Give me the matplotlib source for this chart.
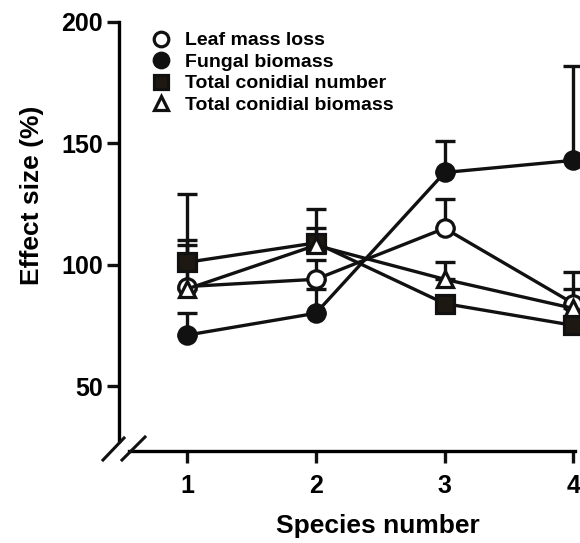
import matplotlib
matplotlib.use("Agg")
import matplotlib.pyplot as plt
from matplotlib.lines import Line2D
import matplotlib.transforms as mtransforms

plt.rcParams['font.family'] = ['Liberation Sans', 'DejaVu Sans']
plt.rcParams['font.weight'] = 'bold'

species = [1, 2, 3, 4]
leaf_mass_loss = [91, 94, 115, 84]
leaf_mass_loss_err = [19, 8, 12, 13]
fungal_biomass = [71, 80, 138, 143]
fungal_biomass_err = [9, 10, 13, 39]
conidial_number = [101, 109, 84, 75]
conidial_number_err = [28, 6, 0, 0]
conidial_biomass = [90, 108, 94, 82]
conidial_biomass_err = [18, 15, 7, 8]

series = [
    ("Leaf mass loss", leaf_mass_loss, leaf_mass_loss_err, "o", "white"),
    ("Fungal biomass", fungal_biomass, fungal_biomass_err, "o", "#111111"),
    ("Total conidial number", conidial_number, conidial_number_err, "s", "#1e1812"),
    ("Total conidial biomass", conidial_biomass, conidial_biomass_err, "^", "white"),
]

W, H = 580, 543
fig = plt.figure(figsize=(W / 100, H / 100), dpi=100)
# axes box in pixels: left at y-axis line, bottom at x-axis line
left_px, right_px, top_px, bottom_px = 119, 580, 18, 451
ax = fig.add_axes([left_px / W, 1 - bottom_px / H,
                   (right_px - left_px) / W, (bottom_px - top_px) / H])

px_per_x = 128.8
px_per_y = 2.43
y_bottom = 50 - (bottom_px - 386) / px_per_y
y_top = 200 + (22 - top_px) / px_per_y
ax.set_xlim(1 - (187 - left_px) / px_per_x, 4 + (right_px - 573.5) / px_per_x)
ax.set_ylim(y_bottom, y_top)

lw = 2.4
for name, vals, errs, mk, fc in series:
    ax.errorbar(species, vals, yerr=[[0] * len(errs), errs], fmt='none',
                ecolor='#111111', elinewidth=lw, capsize=7.2, capthick=lw,
                clip_on=False, zorder=2)
for name, vals, errs, mk, fc in series:
    ms = 12.5 if mk != "^" else 12
    ax.plot(species, vals, color='#111111', lw=lw, marker=mk, ms=ms,
            markerfacecolor=fc, markeredgecolor='#111111', markeredgewidth=2.3,
            clip_on=False, zorder=3, label=name)

for s in ['top', 'right']:
    ax.spines[s].set_visible(False)
ax.spines['left'].set_linewidth(2.4)
ax.spines['bottom'].set_linewidth(2.4)
ax.spines['left'].set_bounds(y_bottom + (bottom_px - 441) / px_per_y, 200)
ax.spines['bottom'].set_bounds(ax.get_xlim()[0] + (129 - left_px) / px_per_x, 4.01)

ax.set_yticks([50, 100, 150, 200])
ax.set_xticks(species)
ax.tick_params(axis='both', direction='out', length=8.5, width=2.4,
               labelsize=18, pad=3, color='#111111')
for lab in ax.get_xticklabels() + ax.get_yticklabels():
    lab.set_fontweight('bold')
ax.tick_params(axis='x', pad=8)

ax.set_xlabel("Species number", fontsize=19, fontweight='bold')
ax.set_ylabel("Effect size (%)", fontsize=19, fontweight='bold')
ax.xaxis.set_label_coords((378 - left_px) / (right_px - left_px),
                          (bottom_px - 514) / (bottom_px - top_px))
ax.yaxis.set_label_coords((44 - left_px) / (right_px - left_px),
                          (bottom_px - 195) / (bottom_px - top_px))

# axis break marks at the corner
tr = mtransforms.blended_transform_factory(fig.transFigure, fig.transFigure)
for x0, y0, x1, y1 in [(103, 460, 124, 438), (122, 460, 145, 437)]:
    fig.add_artist(Line2D([x0 / W, x1 / W], [1 - y0 / H, 1 - y1 / H],
                          color='#111111', lw=2.2, transform=tr))

leg = ax.legend(loc='upper left', bbox_to_anchor=(0.054, 0.986),
                frameon=False, fontsize=14, handlelength=1.0, handletextpad=0.7,
                labelspacing=0.2, borderaxespad=0)
for h in leg.legend_handles:
    h.set_linestyle('None')
    h.set_markersize(10.5)
for t in leg.get_texts():
    t.set_fontweight('bold')

fig.savefig("out.png", dpi=100)
